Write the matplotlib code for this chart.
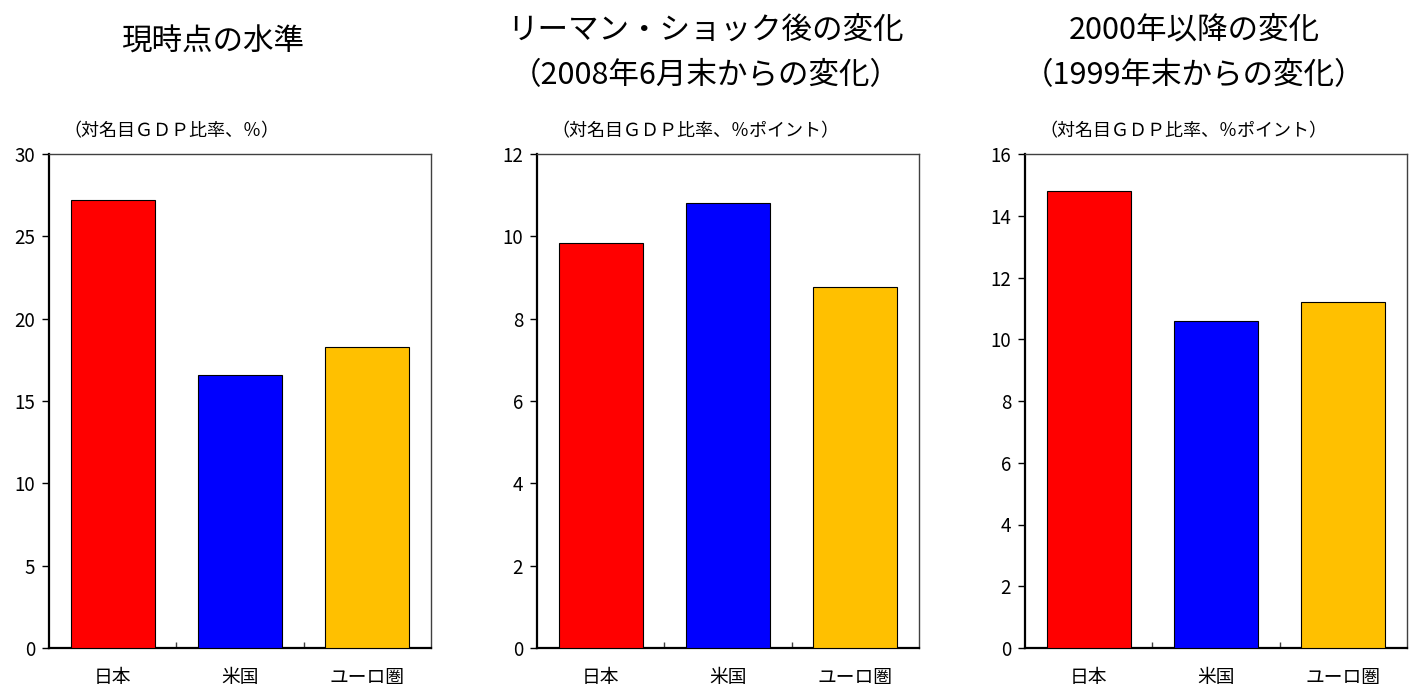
import numpy as np
import matplotlib
matplotlib.use("Agg")
import matplotlib.pyplot as plt

plt.rcParams['font.family'] = ['Noto Sans CJK JP', 'DejaVu Sans']

# data
regions = ['日本', '米国', 'ユーロ圏']
level_now = [27.2, 16.6, 18.3]
change_since_lehman = [9.84, 10.81, 8.77]
change_since_2000 = [14.81, 10.59, 11.2]

titles = ['現時点の水準',
          'リーマン・ショック後の変化\n（2008年6月末からの変化）',
          '2000年以降の変化\n（1999年末からの変化）']
units = ['（対名目ＧＤＰ比率、％）',
         '（対名目ＧＤＰ比率、％ポイント）',
         '（対名目ＧＤＰ比率、％ポイント）']
ymax = [30, 12, 16]
ystep = [5, 2, 2]
bar_colors = ['#FF0000', '#0000FF', '#FFC000']

series = [level_now, change_since_lehman, change_since_2000]

fig = plt.figure(figsize=(14.19, 6.88), dpi=100)
W, H = 1419, 688
lefts = [49, 537, 1025]
ax_w, ax_top, ax_bot = 382, 154, 648
title_y = [42, 53, 53]
title_dx = [-27, -22, -22]

for i in range(3):
    ax = fig.add_axes([lefts[i] / W, (H - ax_bot) / H, ax_w / W, (ax_bot - ax_top) / H])
    x = np.arange(len(regions))
    ax.bar(x, series[i], width=0.66, color=bar_colors, edgecolor='black', linewidth=0.8, zorder=3)
    ax.set_xlim(-0.5, 2.5)
    ax.set_ylim(0, ymax[i])
    ax.set_yticks(np.arange(0, ymax[i] + 0.01, ystep[i]))
    ax.set_xticks(x)
    ax.set_xticklabels(regions, fontsize=13.5)
    ax.set_xticks([0.5, 1.5], minor=True)
    ax.tick_params(axis='x', which='major', length=0, pad=14)
    ax.tick_params(axis='x', which='minor', direction='in', length=4, width=1, color='#404040')
    ax.tick_params(axis='y', direction='out', length=5, width=1, labelsize=13.5, pad=5)
    for s in ['left', 'bottom']:
        ax.spines[s].set_linewidth(1.6)
        ax.spines[s].set_color('black')
    for s in ['top', 'right']:
        ax.spines[s].set_linewidth(1.0)
        ax.spines[s].set_color('#404040')

    fig.text((lefts[i] + 14) / W, (H - 131) / H, units[i], fontsize=13, va='center', ha='left')
    fig.text((lefts[i] + ax_w / 2 + title_dx[i]) / W, (H - title_y[i]) / H, titles[i],
             fontsize=22, style='italic', ha='center', va='center', linespacing=1.6)

fig.savefig('out.png', dpi=100)
